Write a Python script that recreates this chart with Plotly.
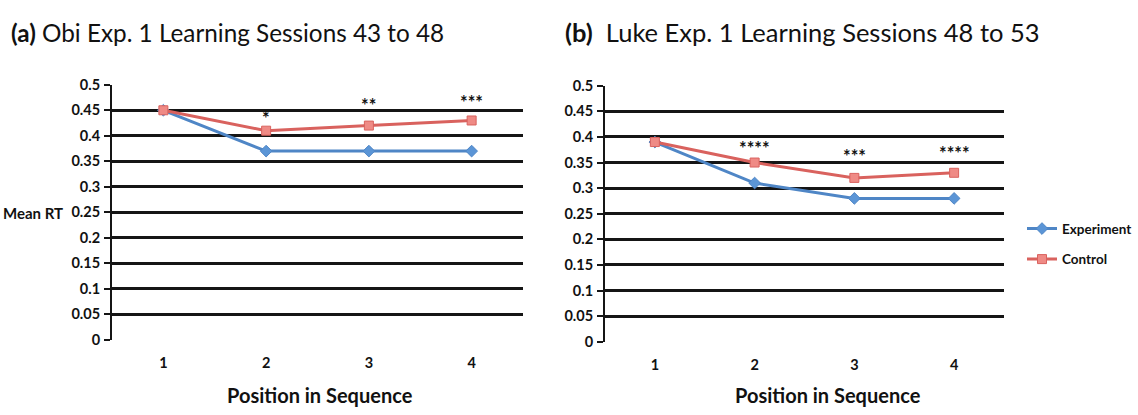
import plotly.graph_objects as go

positions = [1, 2, 3, 4]
obi_experiment = [0.45, 0.37, 0.37, 0.37]
obi_control = [0.45, 0.41, 0.42, 0.43]
luke_experiment = [0.39, 0.31, 0.28, 0.28]
luke_control = [0.39, 0.35, 0.32, 0.33]
obi_stars = ["", "*", "**", "***"]
luke_stars = ["", "****", "***", "****"]
title_a = ("(a)", "Obi Exp. 1 Learning Sessions 43 to 48")
title_b = ("(b)", "Luke Exp. 1 Learning Sessions 48 to 53")

W, H = 1138, 415
BLUE = "#4F86C6"
RED = "#D9625E"
FONT = "Lato"
DARK = "#151515"

fig = go.Figure()

def add_panel(exp, ctl, xa, ya, show):
    fig.add_trace(go.Scatter(
        x=positions, y=exp, name="Experiment", mode="lines+markers",
        line=dict(color=BLUE, width=3),
        marker=dict(symbol="diamond", size=9, color="#5B95D6", line=dict(color=BLUE, width=1)),
        xaxis=xa, yaxis=ya, showlegend=show, legendgroup="e"))
    fig.add_trace(go.Scatter(
        x=positions, y=ctl, name="Control", mode="lines+markers",
        line=dict(color=RED, width=3),
        marker=dict(symbol="square", size=9, color="#EF8A85", line=dict(color=RED, width=1)),
        xaxis=xa, yaxis=ya, showlegend=show, legendgroup="c"))

add_panel(obi_experiment, obi_control, "x", "y", False)
add_panel(luke_experiment, luke_control, "x2", "y2", True)

def px_x(p):
    return p / W

def px_y(p):
    return 1 - p / H

axis_y = dict(range=[0, 0.5], dtick=0.05, tick0=0, showgrid=True, gridcolor=DARK,
              gridwidth=2.5, showline=True, linecolor=DARK, linewidth=2,
              ticks="outside", ticklen=6, tickwidth=2, tickcolor=DARK,
              tickfont=dict(family=FONT, size=14.5, color="#111", weight="bold"),
              zeroline=False, ticklabelstandoff=1, fixedrange=True)
axis_x = dict(range=[0.5, 4.5], tickvals=positions, ticktext=[str(p) for p in positions],
              showgrid=False, zeroline=False, showline=False, ticks="",
              tickfont=dict(family=FONT, size=14.5, color="#111", weight="bold"),
              ticklabelstandoff=13, fixedrange=True)

fig.update_layout(
    width=W, height=H, margin=dict(l=0, r=0, t=0, b=0),
    paper_bgcolor="white", plot_bgcolor="white",
    xaxis=dict(axis_x, domain=[px_x(112), px_x(523)], anchor="y"),
    yaxis=dict(axis_y, domain=[px_y(345), px_y(79)], anchor="x"),
    xaxis2=dict(axis_x, domain=[px_x(605), px_x(1004)], anchor="y2"),
    yaxis2=dict(axis_y, domain=[px_y(347), px_y(80)], anchor="x2"),
    legend=dict(x=px_x(1022), y=px_y(213), xanchor="left", yanchor="top",
                font=dict(family=FONT, size=13.5, color="#111", weight="bold"),
                tracegroupgap=10, itemwidth=30, bgcolor="rgba(0,0,0,0)"),
    showlegend=True,
)

ann = []
ann.append(dict(x=px_x(9), y=px_y(24), xref="paper", yref="paper", xanchor="left", yanchor="middle",
                text=f"<b>{title_a[0]}</b> {title_a[1]}", showarrow=False,
                font=dict(family=FONT, size=24.3, color="#111")))
ann.append(dict(x=px_x(563), y=px_y(24), xref="paper", yref="paper", xanchor="left", yanchor="middle",
                text=f"<b>{title_b[0]}</b>&nbsp;&nbsp;{title_b[1]}", showarrow=False,
                font=dict(family=FONT, size=25.5, color="#111")))
ann.append(dict(x=px_x(33), y=px_y(213), xref="paper", yref="paper", xanchor="center", yanchor="middle",
                text="<b>Mean RT</b>", showarrow=False, font=dict(family=FONT, size=15, color="#111")))
ann.append(dict(x=px_x(320), y=px_y(402), xref="paper", yref="paper", xanchor="center", yanchor="middle",
                text="<b>Position in Sequence</b>", showarrow=False, font=dict(family=FONT, size=20, color="#111")))
ann.append(dict(x=px_x(828), y=px_y(403), xref="paper", yref="paper", xanchor="center", yanchor="middle",
                text="<b>Position in Sequence</b>", showarrow=False, font=dict(family=FONT, size=20, color="#111")))

obi_shift = [0, 12, 20, 17]
luke_shift = [0, 14, 21, 19]
for p, c, s, sh in zip(positions, obi_control, obi_stars, obi_shift):
    if s:
        ann.append(dict(x=p, y=c, xref="x", yref="y", text=f"<b>{s}</b>", showarrow=False,
                        yshift=sh + 1, font=dict(family=FONT, size=18, color="#111")))
for p, c, s, sh in zip(positions, luke_control, luke_stars, luke_shift):
    if s:
        ann.append(dict(x=p, y=c, xref="x2", yref="y2", text=f"<b>{s}</b>", showarrow=False,
                        yshift=sh + 1, font=dict(family=FONT, size=18, color="#111")))
fig.update_layout(annotations=ann)

fig.write_html("out.html")
